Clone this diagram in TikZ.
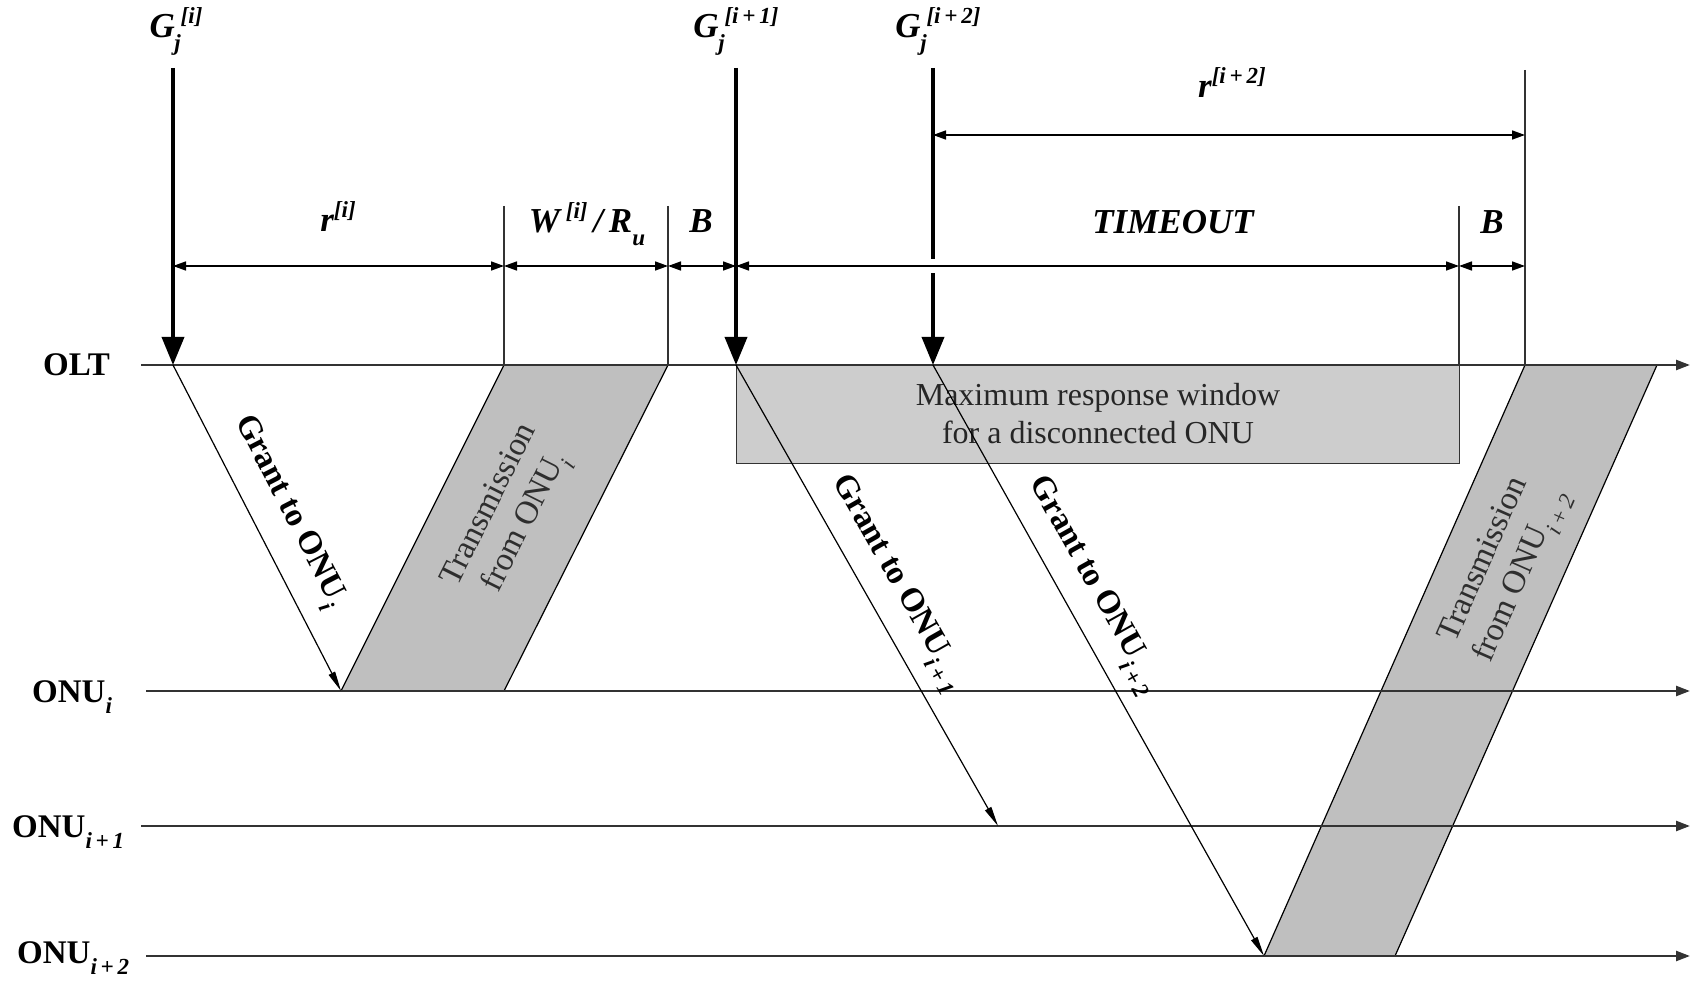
\documentclass[tikz,border=0pt]{standalone}
\usepackage{fontspec}
\setmainfont{Liberation Serif}
\usetikzlibrary{arrows.meta}

\definecolor{bandgray}{HTML}{BFBFBF}
\definecolor{boxgray}{HTML}{CDCDCD}
\definecolor{axisgray}{HTML}{333333}
\definecolor{txtgray}{HTML}{2E2E2E}

% raised / lowered indices set as text
\newcommand{\up}[1]{\raisebox{0.42em}{\fontsize{23}{23}\selectfont #1}}
\newcommand{\dn}[1]{\raisebox{-0.36em}{\fontsize{23}{23}\selectfont #1}}

\begin{document}
\begin{tikzpicture}[x=1pt,y=-1pt,
  axis/.style={draw=axisgray, line width=2.4pt, -{Triangle[length=14pt,width=10pt]}},
  bigarrow/.style={line width=3.6pt, -{Triangle[length=28pt,width=22pt]}},
  grantline/.style={line width=1.2pt, -{Triangle[length=20pt,width=7pt]}},
  dimline/.style={line width=1.6pt, {Triangle[length=13pt,width=9pt]}-{Triangle[length=13pt,width=9pt]}},
  extline/.style={draw=axisgray, line width=1.2pt},
  band/.style={fill=bandgray, draw=black, line width=1.2pt},
  lbl/.style={font=\fontsize{33}{38}\selectfont\bfseries, inner sep=0pt},
  mathlbl/.style={font=\fontsize{35}{40}\selectfont\bfseries\itshape, inner sep=0pt},
  bandtxt/.style={font=\fontsize{33}{40}\selectfont, text=txtgray, align=center, inner sep=0pt},
  wintxt/.style={font=\fontsize{32}{38}\selectfont, text=black!85, align=center},
]
\path[use as bounding box] (0,0) rectangle (1698,981);

% ---- time axes ----
\coordinate (oltL) at (141,365);  \coordinate (oltR) at (1690,365);
\coordinate (onuL) at (146,691);  \coordinate (onuR) at (1690,691);
\coordinate (onuAL) at (141,826); \coordinate (onuAR) at (1690,826);
\coordinate (onuBL) at (146,956); \coordinate (onuBR) at (1690,956);

% ---- event points ----
\coordinate (g1) at (173,365);   \coordinate (g1top) at (173,68);
\coordinate (g2) at (736,365);   \coordinate (g2top) at (736,68);
\coordinate (g3) at (933,365);   \coordinate (g3top) at (933,68);
\coordinate (rx1) at (341,691);
\coordinate (rx2) at (998,826);
\coordinate (rx3) at (1264,956);

% ---- shaded regions ----
\node[draw=axisgray, line width=1.2pt, fill=boxgray, minimum width=723pt, minimum height=98pt,
      anchor=north west, inner sep=0pt] (win) at (736,365) {};
\node[wintxt] (wintext) at (1098,414) {Maximum response window\\for a disconnected ONU};

\filldraw[band] (rx1) -- (504,691) -- (668,365) -- (504,365) -- cycle;
\filldraw[band] (rx3) -- (1395,956) -- (1657,365) -- (1525,365) -- cycle;

% ---- axes and their labels ----
\draw[axis] (oltL) -- (oltR);
\draw[axis] (onuL) -- (onuR);
\draw[axis] (onuAL) -- (onuAR);
\draw[axis] (onuBL) -- (onuBR);

\node[lbl, anchor=base west] (olt) at (43,376) {OLT};
\node[lbl, anchor=base west] (onui) at (32,702) {ONU\dn{\textit{i}}};
\node[lbl, anchor=base west] (onui1) at (12,837) {ONU\dn{\textit{i\,+\,1}}};
\node[lbl, anchor=base west] (onui2) at (17,963) {ONU\dn{\textit{i\,+\,2}}};

% ---- extension lines ----
\draw[extline] (504,206) -- (504,365);
\draw[extline] (668,206) -- (668,365);
\draw[extline] (1459,206) -- (1459,365);
\draw[extline] (1525,70) -- (1525,365);

% ---- grant events at the OLT ----
\draw[bigarrow] (g1top) -- (g1);
\draw[bigarrow] (g2top) -- (g2);
\draw[bigarrow] (g3top) -- (g3);
\fill[white] (927,259) rectangle (939,273);

\node[mathlbl, anchor=base] (lg1) at (176,38) {G\,\rlap{\kern-0.18em\dn{j}}\up{[i]}};
\node[mathlbl, anchor=base] (lg2) at (736,38) {G\,\rlap{\kern-0.18em\dn{j}}\up{[i\,+\,1]}};
\node[mathlbl, anchor=base] (lg3) at (938,38) {G\,\rlap{\kern-0.18em\dn{j}}\up{[i\,+\,2]}};

% ---- dimension lines ----
\draw[dimline] (173,266) -- (504,266);
\draw[dimline] (504,266) -- (668,266);
\draw[dimline] (668,266) -- (736,266);
\draw[dimline] (736,266) -- (1459,266);
\draw[dimline] (1459,266) -- (1525,266);
\draw[dimline] (933,135) -- (1525,135);

\node[mathlbl, anchor=base] (lr1) at (338,232) {r\up{[i]}};
\node[mathlbl, anchor=base] (lw) at (587,233) {W\,\up{[i]}\,/\,R\dn{u}};
\node[mathlbl, anchor=base] (lb1) at (701,233) {B};
\node[mathlbl, anchor=base] (lto) at (1173,234) {TIMEOUT};
\node[mathlbl, anchor=base] (lb2) at (1492,234) {B};
\node[mathlbl, anchor=base] (lr3) at (1232,98) {r\up{[i\,+\,2]}};

% ---- grants travelling downstream ----
\draw[grantline] (g1) -- (rx1);
\draw[grantline] (g2) -- (rx2);
\draw[grantline] (g3) -- (rx3);

\node[lbl, rotate=-62.7] (tg1) at (288,512) {Grant to ONU\dn{\textit{i}}};
\node[lbl, rotate=-60.3] (tg2) at (897,584) {Grant to ONU\dn{\textit{i\,+\,1}}};
\node[lbl, rotate=-60.7] (tg3) at (1093,586) {Grant to ONU\dn{\textit{i\,+\,2}}};

% ---- upstream transmissions ----
\node[bandtxt, rotate=63.4] (tx1) at (510,515) {Transmission\\from ONU\dn{\textit{i}}};
\node[bandtxt, rotate=66.2] (tx3) at (1505,569) {Transmission\\from ONU\dn{\textit{i\,+\,2}}};
\end{tikzpicture}
\end{document}
